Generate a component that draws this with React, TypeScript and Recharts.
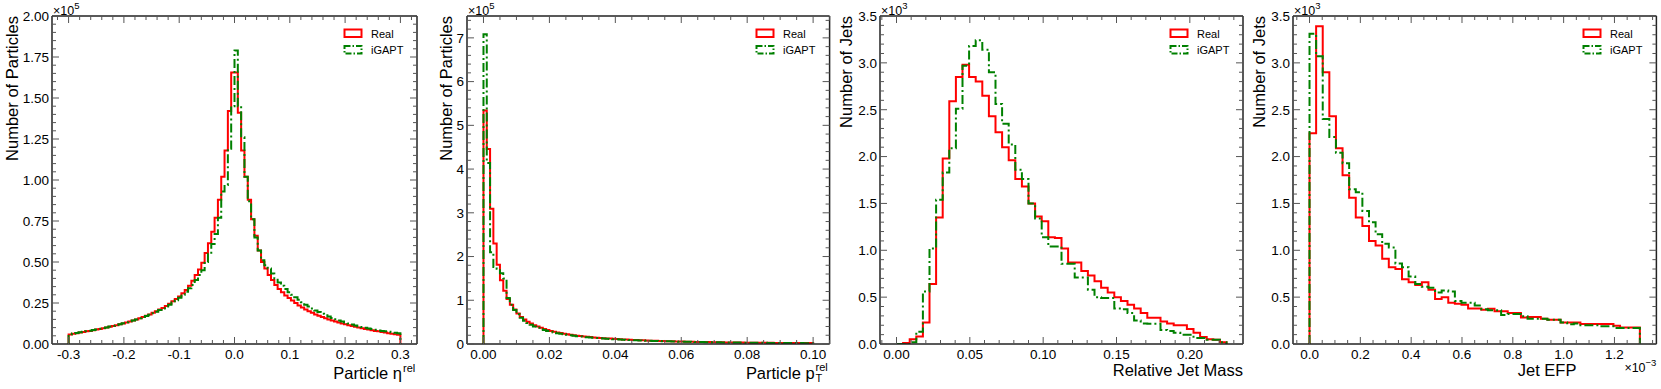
import React from "react";
import { LineChart, Line, XAxis, YAxis, Legend } from "recharts";

const FONT = '"Liberation Sans", Arial, Helvetica, sans-serif';
const RED = "#ff0000";
const GREEN = "#008000";
const FRAME = "#222222";
const TICK = "#555555";
const H = 389;
const PLOT_TOP = 16;
const RIGHT_GAP = 4;

// ---- Particle eta^rel : 100 bins on [-0.3, 0.3], counts x 1e5
const etaRange = [-0.3, 0.3];
const etaReal = [
  0.058, 0.063, 0.066, 0.07, 0.073, 0.077, 0.08, 0.084, 0.088, 0.092,
  0.096, 0.1, 0.105, 0.11, 0.115, 0.12, 0.125, 0.131, 0.137, 0.143,
  0.15, 0.157, 0.164, 0.172, 0.18, 0.19, 0.2, 0.21, 0.22, 0.232,
  0.245, 0.26, 0.275, 0.29, 0.31, 0.33, 0.355, 0.385, 0.42, 0.455,
  0.495, 0.555, 0.615, 0.685, 0.77, 0.88, 1.02, 1.18, 1.42, 1.655,
  1.655, 1.41, 1.18, 1.02, 0.88, 0.76, 0.66, 0.57, 0.5, 0.46,
  0.42, 0.39, 0.36, 0.335, 0.315, 0.295, 0.28, 0.265, 0.25, 0.235,
  0.222, 0.21, 0.2, 0.19, 0.18, 0.172, 0.164, 0.157, 0.15, 0.143,
  0.137, 0.131, 0.125, 0.12, 0.115, 0.11, 0.105, 0.1, 0.096, 0.092,
  0.088, 0.084, 0.08, 0.077, 0.073, 0.07, 0.066, 0.063, 0.06, 0.057,
];
const etaGen = [
  0.06, 0.064, 0.067, 0.071, 0.074, 0.078, 0.081, 0.085, 0.089, 0.093,
  0.097, 0.101, 0.106, 0.111, 0.116, 0.121, 0.126, 0.132, 0.138, 0.144,
  0.15, 0.157, 0.164, 0.171, 0.179, 0.188, 0.197, 0.207, 0.217, 0.228,
  0.24, 0.253, 0.267, 0.282, 0.3, 0.318, 0.34, 0.36, 0.39, 0.42,
  0.45, 0.5, 0.55, 0.61, 0.67, 0.77, 0.93, 0.97, 1.19, 1.45,
  1.79, 1.45, 1.26, 1.02, 0.87, 0.76, 0.65, 0.57, 0.51, 0.48,
  0.46, 0.43, 0.4, 0.375, 0.355, 0.335, 0.315, 0.3, 0.285, 0.27,
  0.255, 0.24, 0.228, 0.216, 0.205, 0.195, 0.185, 0.176, 0.167, 0.159,
  0.151, 0.144, 0.137, 0.131, 0.125, 0.119, 0.113, 0.108, 0.103, 0.099,
  0.095, 0.091, 0.087, 0.083, 0.08, 0.077, 0.074, 0.071, 0.068, 0.065,
];

// ---- Particle pT^rel : 100 bins on [0, 0.1], counts x 1e5
const ptRange = [0, 0.1];
const ptReal = [
  5.34, 4.46, 3.09, 2.3, 1.81, 1.46, 1.22, 1.03, 0.9, 0.79,
  0.7, 0.62, 0.56, 0.51, 0.47, 0.43, 0.4, 0.37, 0.345, 0.32,
  0.3, 0.28, 0.265, 0.25, 0.235, 0.222, 0.21, 0.2, 0.19, 0.181,
  0.173, 0.165, 0.158, 0.151, 0.145, 0.139, 0.133, 0.128, 0.123, 0.118,
  0.113, 0.108, 0.104, 0.1, 0.096, 0.092, 0.089, 0.086, 0.083, 0.08,
  0.077, 0.074, 0.072, 0.069, 0.067, 0.065, 0.063, 0.061, 0.059, 0.057,
  0.055, 0.053, 0.051, 0.05, 0.048, 0.047, 0.045, 0.044, 0.043, 0.041,
  0.04, 0.039, 0.038, 0.037, 0.036, 0.035, 0.034, 0.033, 0.032, 0.031,
  0.031, 0.03, 0.029, 0.028, 0.028, 0.027, 0.026, 0.026, 0.025, 0.025,
  0.024, 0.023, 0.023, 0.022, 0.022, 0.021, 0.021, 0.02, 0.02, 0.02,
];
const ptGen = [
  7.08, 4.14, 2.1, 1.76, 1.72, 1.62, 1.5, 1.05, 0.9, 0.78,
  0.68, 0.6, 0.53, 0.48, 0.44, 0.4, 0.37, 0.345, 0.32, 0.3,
  0.28, 0.263, 0.248, 0.234, 0.221, 0.209, 0.198, 0.188, 0.179, 0.17,
  0.162, 0.155, 0.148, 0.142, 0.136, 0.13, 0.125, 0.12, 0.115, 0.11,
  0.106, 0.102, 0.098, 0.094, 0.091, 0.088, 0.085, 0.082, 0.079, 0.076,
  0.073, 0.071, 0.068, 0.066, 0.064, 0.062, 0.06, 0.058, 0.056, 0.054,
  0.052, 0.051, 0.049, 0.048, 0.046, 0.045, 0.044, 0.042, 0.041, 0.04,
  0.039, 0.038, 0.037, 0.036, 0.035, 0.034, 0.033, 0.032, 0.031, 0.03,
  0.03, 0.029, 0.028, 0.027, 0.027, 0.026, 0.025, 0.025, 0.024, 0.024,
  0.023, 0.022, 0.022, 0.021, 0.021, 0.02, 0.02, 0.019, 0.019, 0.019,
];

// ---- Relative jet mass : 50 bins on [0, 0.225], counts x 1e3
const massRange = [0, 0.225];
const massReal = [
  0, 0.01, 0.05, 0.08, 0.23, 0.64, 1.35, 1.98, 2.59, 2.85,
  2.98, 2.85, 2.8, 2.65, 2.43, 2.26, 2.1, 1.96, 1.76, 1.68,
  1.5, 1.36, 1.31, 1.14, 1.13, 1.02, 0.87, 0.87, 0.78, 0.73,
  0.67, 0.6, 0.55, 0.5, 0.46, 0.42, 0.38, 0.33, 0.28, 0.28,
  0.24, 0.22, 0.2, 0.2, 0.16, 0.12, 0.075, 0.05, 0.045, 0.02,
];
const massGen = [
  0, 0, 0.02, 0.13, 0.56, 1.02, 1.54, 1.83, 2.09, 2.51,
  2.97, 3.18, 3.24, 3.14, 2.9, 2.56, 2.35, 2.13, 1.86, 1.76,
  1.5, 1.34, 1.14, 1.04, 1.04, 0.855, 0.855, 0.71, 0.71, 0.58,
  0.5, 0.49, 0.49, 0.38, 0.37, 0.33, 0.25, 0.22, 0.215, 0.215,
  0.15, 0.14, 0.12, 0.1, 0.1, 0.065, 0.065, 0.046, 0.046, 0.018,
];

// ---- Jet EFP : 50 bins on [0, 1.3] (x 1e-3), counts x 1e3
const efpRange = [0, 1.3];
const efpReal = [
  2.25, 3.39, 2.9, 2.43, 2.09, 1.8, 1.56, 1.35, 1.26, 1.1,
  1.05, 0.91, 0.82, 0.8, 0.69, 0.66, 0.63, 0.66, 0.58, 0.48,
  0.5, 0.44, 0.43, 0.42, 0.38, 0.38, 0.365, 0.376, 0.35, 0.35,
  0.33, 0.33, 0.284, 0.288, 0.288, 0.27, 0.26, 0.26, 0.23, 0.23,
  0.23, 0.213, 0.213, 0.213, 0.213, 0.213, 0.195, 0.177, 0.177, 0.177,
];
const efpGen = [
  3.31, 3.07, 2.4, 2.21, 2.04, 1.93, 1.65, 1.62, 1.42, 1.3,
  1.17, 1.07, 1.03, 0.86, 0.82, 0.72, 0.64, 0.61, 0.6, 0.55,
  0.57, 0.56, 0.46, 0.44, 0.44, 0.41, 0.37, 0.36, 0.36, 0.31,
  0.32, 0.32, 0.295, 0.27, 0.27, 0.27, 0.26, 0.26, 0.23, 0.21,
  0.22, 0.2, 0.2, 0.2, 0.19, 0.19, 0.17, 0.17, 0.17, 0.17,
];

// tick positions (not data)
function grid(lo: number, hi: number, step: number): number[] {
  const n = Math.round((hi - lo) / step);
  const out: number[] = [];
  for (let i = 0; i <= n; i++) out.push(+(lo + i * step).toFixed(6));
  return out;
}

// histogram outline rows for a stepAfter line: rise at first edge, fall at last
function histRows(range: number[], real: number[], gen: number[]) {
  const [lo, hi] = range;
  const w = (hi - lo) / real.length;
  const rows = [{ x: lo, real: 0, gen: 0 }];
  real.forEach((v, i) => rows.push({ x: lo + i * w, real: v, gen: gen[i] }));
  rows.push({ x: hi, real: 0, gen: 0 });
  return rows;
}

const isIn = (list: number[], v: number) => list.some((m) => Math.abs(m - v) < 1e-9);

function LegendBox() {
  return (
    <svg width={76} height={30} style={{ display: "block", overflow: "visible" }}>
      <rect x={1.5} y={1.5} width={17} height={7.5} fill="none" stroke={RED} strokeWidth={2} />
      <text x={28} y={9.5} fontSize={11} fontFamily={FONT} fill="#000">Real</text>
      <rect x={1.5} y={18} width={17} height={7.5} fill="none" stroke={GREEN} strokeWidth={2} strokeDasharray="6 2 1.5 2" />
      <text x={28} y={26} fontSize={11} fontFamily={FONT} fill="#000">iGAPT</text>
    </svg>
  );
}

type PanelProps = {
  left: number;
  width: number;
  rows: any[];
  xDomain: number[];
  xTicks: number[];
  xMinor: number[];
  yDomain: number[];
  yTicks: number[];
  yMinor: number[];
  xFmt: (v: number) => string;
  yFmt: (v: number) => string;
  yTitle: string;
  yTitleDx: number;
  yExp: string;
  xTitle: (r: number, b: number) => React.ReactNode;
};

function Panel(p: PanelProps) {
  const frame = { stroke: FRAME, strokeWidth: 1.5 };
  const plotRight = p.width - RIGHT_GAP;
  const X_MARGIN = 5;
  const Y_MARGIN = 3;

  // bottom axis tick: inward tick at bottom and top of the frame, label for majors
  const xTick = (props: any) => {
    const { x, y, payload } = props;
    const v = payload.value;
    const major = isIn(p.xTicks, v);
    const len = major ? 7 : 4;
    const yb = y - X_MARGIN;
    return (
      <g>
        <line x1={x} x2={x} y1={yb} y2={yb - len} stroke={TICK} strokeWidth={1} />
        <line x1={x} x2={x} y1={PLOT_TOP} y2={PLOT_TOP + len} stroke={TICK} strokeWidth={1} />
        {major && (
          <text x={x} y={y} dy="0.71em" textAnchor="middle" fontSize={13.5} fontFamily={FONT} fill="#000">
            {p.xFmt(v)}
          </text>
        )}
      </g>
    );
  };

  // left axis tick: inward tick at left and right of the frame, label for majors
  const yTick = (props: any) => {
    const { x, y, payload } = props;
    const v = payload.value;
    const major = isIn(p.yTicks, v);
    const len = major ? 7 : 4;
    const xl = x + Y_MARGIN;
    return (
      <g>
        <line x1={xl} x2={xl + len} y1={y} y2={y} stroke={TICK} strokeWidth={1} />
        <line x1={plotRight} x2={plotRight - len} y1={y} y2={y} stroke={TICK} strokeWidth={1} />
        {major && (
          <text x={x} y={y} dy="0.355em" textAnchor="end" fontSize={13.5} fontFamily={FONT} fill="#000">
            {p.yFmt(v)}
          </text>
        )}
      </g>
    );
  };

  const yLabel = (props: any) => {
    const vb = props.viewBox ?? { x: 0, y: PLOT_TOP, width: 52, height: 328 };
    const pl = vb.x + vb.width;
    const top = vb.y;
    return (
      <g fontFamily={FONT} fill="#000">
        <text
          transform={`translate(${pl + p.yTitleDx}, ${top}) rotate(-90)`}
          textAnchor="end"
          fontSize={16.5}
        >
          {p.yTitle}
        </text>
        <text x={pl + 1} y={top - 1.2} fontSize={12.5}>
          ×10
          <tspan dy={-5.5} fontSize={9.5}>{p.yExp}</tspan>
        </text>
      </g>
    );
  };

  const xLabel = (props: any) => {
    const vb = props.viewBox ?? { x: 52, y: 344, width: p.width - 56, height: 30 };
    return <g fontFamily={FONT} fill="#000">{p.xTitle(vb.x + vb.width, vb.y)}</g>;
  };

  return (
    <div style={{ position: "absolute", left: p.left, top: 0 }}>
      <LineChart
        width={p.width}
        height={H}
        data={p.rows}
        margin={{ top: PLOT_TOP, right: RIGHT_GAP, bottom: 15, left: 0 }}
      >
        <XAxis
          xAxisId="b"
          type="number"
          dataKey="x"
          domain={p.xDomain}
          allowDataOverflow
          ticks={p.xMinor}
          interval={0}
          height={30}
          tickSize={0}
          tickMargin={X_MARGIN}
          tickLine={false}
          axisLine={frame}
          tick={xTick}
          label={xLabel}
        />
        <XAxis
          xAxisId="t"
          type="number"
          dataKey="x"
          orientation="top"
          mirror
          domain={p.xDomain}
          allowDataOverflow
          tick={false}
          tickLine={false}
          axisLine={frame}
        />
        <YAxis
          yAxisId="l"
          type="number"
          domain={p.yDomain}
          allowDataOverflow
          ticks={p.yMinor}
          interval={0}
          width={52}
          tickSize={0}
          tickMargin={Y_MARGIN}
          tickLine={false}
          axisLine={frame}
          tick={yTick}
          label={yLabel}
        />
        <YAxis
          yAxisId="r"
          type="number"
          orientation="right"
          mirror
          domain={p.yDomain}
          allowDataOverflow
          tick={false}
          tickLine={false}
          axisLine={frame}
        />

        <Line
          xAxisId="b"
          yAxisId="l"
          name="Real"
          dataKey="real"
          type="stepAfter"
          stroke={RED}
          strokeWidth={2}
          strokeLinejoin="miter"
          dot={false}
          activeDot={false}
          isAnimationActive={false}
        />
        <Line
          xAxisId="b"
          yAxisId="l"
          name="iGAPT"
          dataKey="gen"
          type="stepAfter"
          stroke={GREEN}
          strokeWidth={2}
          strokeDasharray="9 3 2 3"
          strokeLinejoin="miter"
          dot={false}
          activeDot={false}
          isAnimationActive={false}
        />
        <Legend
          layout="vertical"
          align="center"
          verticalAlign="middle"
          content={() => <LegendBox />}
          wrapperStyle={{ top: 27.5, left: plotRight - 74.5, width: 76, height: 30 }}
        />
      </LineChart>
    </div>
  );
}

export default function App() {
  return (
    <div
      style={{
        position: "absolute",
        left: 0,
        top: 0,
        width: 1661,
        height: H,
        background: "#fff",
        overflow: "hidden",
      }}
    >
      <Panel
        left={0}
        width={421}
        rows={histRows(etaRange, etaReal, etaGen)}
        xDomain={[-0.33, 0.33]}
        xTicks={grid(-0.3, 0.3, 0.1)}
        xMinor={grid(-0.32, 0.32, 0.02)}
        yDomain={[0, 2]}
        yTicks={grid(0, 2, 0.25)}
        yMinor={grid(0, 2, 0.05)}
        xFmt={(v) => v.toFixed(1)}
        yFmt={(v) => v.toFixed(2)}
        yTitle="Number of Particles"
        yTitleDx={-34}
        yExp="5"
        xTitle={(r, b) => (
          <>
            <text x={r - 15} y={b + 35} textAnchor="end" fontSize={16.5}>Particle η</text>
            <text x={r - 14} y={b + 27.5} fontSize={11}>rel</text>
          </>
        )}
      />
      <Panel
        left={414.7}
        width={418.6}
        rows={histRows(ptRange, ptReal, ptGen)}
        xDomain={[-0.005, 0.105]}
        xTicks={grid(0, 0.1, 0.02)}
        xMinor={grid(-0.005, 0.105, 0.005)}
        yDomain={[0, 7.5]}
        yTicks={grid(0, 7, 1)}
        yMinor={grid(0, 7.4, 0.2)}
        xFmt={(v) => v.toFixed(2)}
        yFmt={(v) => v.toFixed(0)}
        yTitle="Number of Particles"
        yTitleDx={-15}
        yExp="5"
        xTitle={(r, b) => (
          <>
            <text x={r - 15} y={b + 35} textAnchor="end" fontSize={16.5}>Particle p</text>
            <text x={r - 14} y={b + 27.5} fontSize={11}>rel</text>
            <text x={r - 14} y={b + 38.5} fontSize={11}>T</text>
          </>
        )}
      />
      <Panel
        left={828}
        width={419}
        rows={histRows(massRange, massReal, massGen)}
        xDomain={[-0.01125, 0.23625]}
        xTicks={grid(0, 0.2, 0.05)}
        xMinor={grid(-0.01, 0.23, 0.01)}
        yDomain={[0, 3.5]}
        yTicks={grid(0, 3.5, 0.5)}
        yMinor={grid(0, 3.5, 0.1)}
        xFmt={(v) => v.toFixed(2)}
        yFmt={(v) => v.toFixed(1)}
        yTitle="Number of Jets"
        yTitleDx={-28}
        yExp="3"
        xTitle={(r, b) => (
          <text x={r} y={b + 32} textAnchor="end" fontSize={16.5}>Relative Jet Mass</text>
        )}
      />
      <Panel
        left={1241.3}
        width={419.4}
        rows={histRows(efpRange, efpReal, efpGen)}
        xDomain={[-0.065, 1.365]}
        xTicks={grid(0, 1.2, 0.2)}
        xMinor={grid(-0.05, 1.35, 0.05)}
        yDomain={[0, 3.5]}
        yTicks={grid(0, 3.5, 0.5)}
        yMinor={grid(0, 3.5, 0.1)}
        xFmt={(v) => v.toFixed(1)}
        yFmt={(v) => v.toFixed(1)}
        yTitle="Number of Jets"
        yTitleDx={-28}
        yExp="3"
        xTitle={(r, b) => (
          <>
            <text x={r - 80} y={b + 32} textAnchor="end" fontSize={16.5}>Jet EFP</text>
            <text x={r} y={b + 28} textAnchor="end" fontSize={12.5}>
              ×10<tspan dy={-5.5} fontSize={9.5}>−3</tspan>
            </text>
          </>
        )}
      />
    </div>
  );
}
